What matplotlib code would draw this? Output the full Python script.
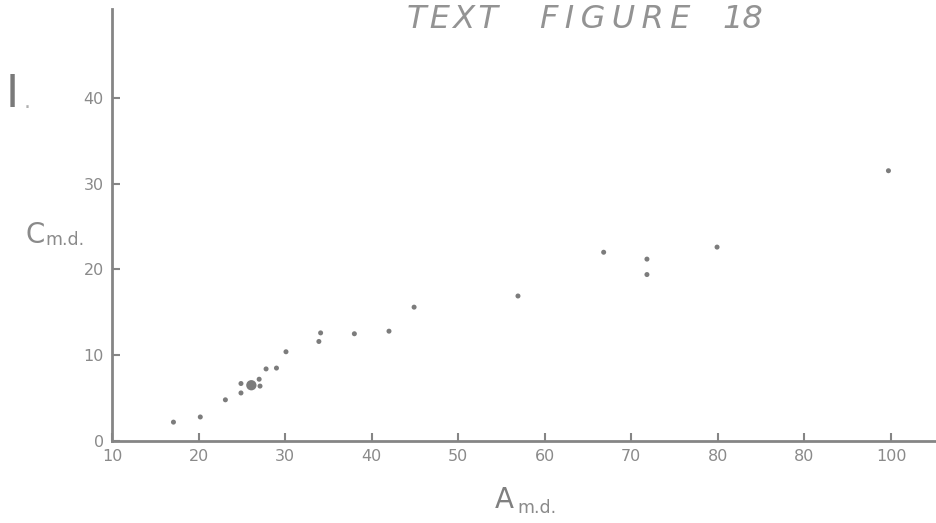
import matplotlib
matplotlib.use("Agg")
import matplotlib.pyplot as plt

# Mean diameter measurements: A (x) against C (y)
a_md = [17.1, 20.2, 23.1, 24.9, 24.9, 27.0, 27.1, 27.8, 29.0, 30.1,
        34.1, 33.9, 38.0, 42.0, 44.9, 56.9, 66.8, 71.8, 71.8, 79.9, 99.7]
c_md = [2.2, 2.8, 4.8, 6.7, 5.6, 7.2, 6.4, 8.4, 8.5, 10.4,
        12.6, 11.6, 12.5, 12.8, 15.6, 16.9, 22.0, 21.2, 19.4, 22.6, 31.5]

# Heavier point (several coincident readings)
a_md_big = [26.1]
c_md_big = [6.5]

x_ticks = [10, 20, 30, 40, 50, 60, 70, 80, 90, 100]
x_tick_labels = ["10", "20", "30", "40", "50", "60", "70", "80", "80", "100"]
y_ticks = [0, 10, 20, 30, 40]
y_tick_labels = ["0", "10", "20", "30", "40"]

W, H = 937, 523
INK = "#858585"
TEXT = "#8a8a8a"
FONT = "DejaVu Sans"


def px(x, y):
    """Pixel position -> figure fraction."""
    return x / W, 1 - y / H


fig = plt.figure(figsize=(W / 100, H / 100), dpi=100)
fig.patch.set_facecolor("white")

left, right = 112, 937
top, bottom = 9, 441
ax = fig.add_axes([left / W, (H - bottom) / H, (right - left) / W, (bottom - top) / H])

ax.scatter(a_md, c_md, s=13, color="#7c7c7c", edgecolors="none", zorder=3)
ax.scatter(a_md_big, c_md_big, s=55, color="#7c7c7c", edgecolors="none", zorder=3)

ax.set_xlim(10, 10 + (right - left) / 8.656)
ax.set_ylim(0, (bottom - top) / 8.58)

for side in ("top", "right"):
    ax.spines[side].set_visible(False)
for side in ("left", "bottom"):
    ax.spines[side].set_color(INK)
    ax.spines[side].set_linewidth(2.0)

ax.set_xticks(x_ticks)
ax.set_xticklabels(x_tick_labels)
ax.set_yticks(y_ticks)
ax.set_yticklabels(y_tick_labels)
ax.tick_params(axis="both", direction="in", length=6, width=1.5, color=INK,
               labelcolor=TEXT, labelsize=11.5)
ax.tick_params(axis="x", pad=6)
ax.tick_params(axis="y", pad=6)
for lab in ax.get_xticklabels() + ax.get_yticklabels():
    lab.set_family(FONT)

# Title lettering
title_kw = dict(family=FONT, style="oblique", fontsize=23, color="#939393",
                ha="left", va="baseline")
fig.text(*px(407, 28), "T\u200aE\u200aX\u200aT", **title_kw)
fig.text(*px(540, 28), "F\u2009I\u2009G\u2009U\u2009R\u2009E", **title_kw)
fig.text(*px(722, 28), "18", **title_kw)

# Panel numeral
fig.text(*px(12.5, 107), "I", family=FONT, fontsize=32, color="#7a7a7a",
         ha="center", va="baseline")
fig.text(*px(27, 108), ".", family=FONT, fontsize=16, color="#b0b0b0",
         ha="center", va="baseline")

# Axis titles
fig.text(*px(26, 243), "C", family=FONT, fontsize=20, color=TEXT,
         ha="left", va="baseline")
fig.text(*px(45, 245), "m.d.", family=FONT, fontsize=12.5, color=TEXT,
         ha="left", va="baseline")
fig.text(*px(495, 508), "A", family=FONT, fontsize=20,
         color="#808080", ha="left", va="baseline")
fig.text(*px(517, 513), "m.d.", family=FONT, fontsize=12.5, color=TEXT,
         ha="left", va="baseline")

fig.savefig("out.png", dpi=100, facecolor="white")
